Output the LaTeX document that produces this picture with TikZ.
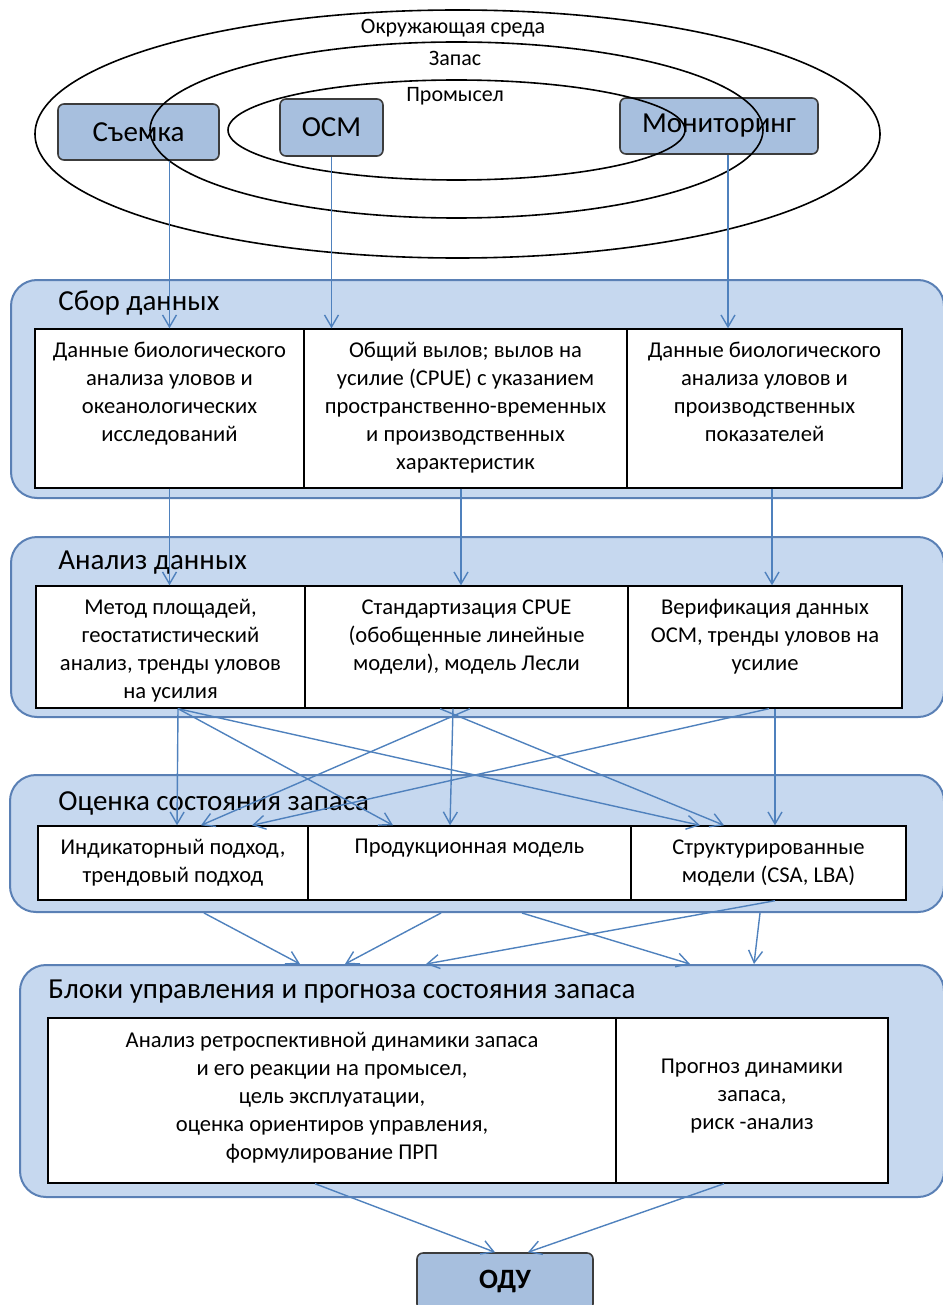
\documentclass[tikz,border=0pt]{standalone}
\usepackage{fontspec}
\setmainfont{Carlito}
\usetikzlibrary{arrows.meta, calc, positioning}

\definecolor{boxblue}{HTML}{A7BFDE}
\definecolor{boxedge}{HTML}{3C3C3C}
\definecolor{panelblue}{HTML}{C6D8EF}
\definecolor{paneledge}{HTML}{5A80B5}
\definecolor{arrowblue}{HTML}{4F81BD}

\tikzset{
  srcbox/.style={draw=boxedge, fill=boxblue, rounded corners=3pt, line width=0.8pt,
    inner sep=0pt, font=\fontsize{14.5}{16}\selectfont},
  panel/.style={draw=paneledge, fill=panelblue, rounded corners=13pt, line width=1pt, inner sep=0pt},
  cell/.style={draw=black, fill=white, line width=0.7pt, inner sep=0pt},
  celltext/.style={anchor=north, align=center, inner sep=0pt, font=\fontsize{11.3}{14}\selectfont},
  paneltitle/.style={anchor=west, inner sep=0pt, font=\fontsize{14.5}{16}\selectfont},
  envlabel/.style={inner sep=0pt, font=\fontsize{11}{13}\selectfont},
  arr/.style={draw=arrowblue, line width=0.7pt, -{Straight Barb[length=6pt,width=7pt]}},
}

\begin{document}
\begin{tikzpicture}[x=0.5pt, y=-0.5pt]
    \useasboundingbox (0,0) rectangle (942,1305);

    % источники данных
    \node[srcbox, minimum width=80.5pt, minimum height=28pt] (syomka) at (138.5,132) {\raisebox{-1.5pt}{Съемка}};
    \node[srcbox, minimum width=51.5pt, minimum height=28.5pt] (osm) at (331.5,127.5) {ОСМ};
    \node[srcbox, minimum width=99pt, minimum height=28pt] (monitor) at (719,126) {Мониторинг};

    % окружающая среда, запас, промысел
    \draw[line width=0.8pt] (457.5,134) ellipse [x radius=422.5, y radius=124];
    \draw[line width=0.8pt] (456.5,130) ellipse [x radius=306.5, y radius=88];
    \draw[line width=0.8pt] (456.5,130) ellipse [x radius=228.5, y radius=50];
    \node[envlabel] (envlbl) at (453,28) {Окружающая среда};
    \node[envlabel] (stocklbl) at (455,58) {Запас};
    \node[envlabel] (fishlbl) at (455,96) {Промысел};

    % сбор данных
    \node[panel, minimum width=466.5pt, minimum height=109pt] (sborpanel) at (477.5,389) {};
    \node[paneltitle] (sbortitle) at (58,303) {Сбор данных};
    \node[cell, minimum width=134.5pt, minimum height=79.5pt] (sbor1) at (169.5,408.5) {};
    \node[cell, minimum width=161.5pt, minimum height=79.5pt] (sbor2) at (465.5,408.5) {};
    \node[cell, minimum width=137.5pt, minimum height=79.5pt] (sbor3) at (764.5,408.5) {};
    \node[celltext] (sbor1t) at (169.5,342) {Данные биологического\\анализа уловов и\\океанологических\\исследований};
    \node[celltext] (sbor2t) at (465.5,342) {Общий вылов; вылов на\\усилие (CPUE) с указанием\\пространственно-временных\\и производственных\\характеристик};
    \node[celltext] (sbor3t) at (764.5,342) {Данные биологического\\анализа уловов и\\производственных\\показателей};

    % анализ данных
    \node[panel, minimum width=466.5pt, minimum height=90pt] (anpanel) at (477.5,627) {};
    \node[paneltitle] (antitle) at (58,563) {Анализ данных};
    \node[cell, minimum width=134.5pt, minimum height=61pt] (analiz1) at (170.5,647) {};
    \node[cell, minimum width=161.5pt, minimum height=61pt] (analiz2) at (466.5,647) {};
    \node[cell, minimum width=137pt, minimum height=61pt] (analiz3) at (765,647) {};
    \node[celltext] (analiz1t) at (170.5,599) {Метод площадей,\\геостатистический\\анализ, тренды уловов\\на усилия};
    \node[celltext] (analiz2t) at (466.5,599) {Стандартизация CPUE\\(обобщенные линейные\\модели), модель Лесли};
    \node[celltext] (analiz3t) at (765,599) {Верификация данных\\ОСМ, тренды уловов на\\усилие};

    % оценка состояния запаса
    \node[panel, minimum width=467pt, minimum height=68.5pt] (ocpanel) at (477,843.5) {};
    \node[paneltitle] (octitle) at (58,803) {Оценка состояния запаса};
    \node[cell, minimum width=135pt, minimum height=37pt] (ocen1) at (173,863) {};
    \node[cell, minimum width=161.5pt, minimum height=37pt] (ocen2) at (469.5,863) {};
    \node[cell, minimum width=137.5pt, minimum height=37pt] (ocen3) at (768.5,863) {};
    \node[celltext] (ocen1t) at (173,839) {Индикаторный подход,\\трендовый подход};
    \node[celltext] (ocen2t) at (469.5,839) {Продукционная модель};
    \node[celltext] (ocen3t) at (768.5,839) {Структурированные\\модели (CSA, LBA)};

    % блоки управления и прогноза
    \node[panel, minimum width=462pt, minimum height=116pt] (blpanel) at (482,1081) {};
    \node[paneltitle] (bltitle) at (48,992) {Блоки управления и прогноза состояния запаса};
    \node[cell, minimum width=284pt, minimum height=82.5pt] (blok1) at (332,1100.5) {};
    \node[cell, minimum width=136pt, minimum height=82.5pt] (blok2) at (752,1100.5) {};
    \node[celltext] (blok1t) at (332,1032) {Анализ ретроспективной динамики запаса\\и его реакции на промысел,\\цель эксплуатации,\\оценка ориентиров управления,\\формулирование ПРП};
    \node[celltext] (blok2t) at (752,1059) {Прогноз динамики\\запаса,\\риск -анализ};

    % ОДУ
    \node[srcbox, minimum width=88pt, minimum height=28.5pt, font=\bfseries\fontsize{14}{16}\selectfont] (odu) at (505,1281.5) {ОДУ};

    % стрелки: источники -> сбор данных
    \draw[arr] (sbor1.north |- syomka.south) -- (sbor1.north);
    \draw[arr] (osm.south) -- (osm.south |- sbor2.north);
    \draw[arr] ($(monitor.south)+(9,0)$) -- ($(monitor.south |- sbor3.north)+(9,0)$);

    % сбор -> анализ
    \draw[arr] (sbor1.south) -- (sbor1.south |- analiz1.north);
    \draw[arr] ($(sbor2.south)+(-4.5,0)$) -- ($(sbor2.south |- analiz2.north)+(-4.5,0)$);
    \draw[arr] ($(sbor3.south)+(7.5,0)$) -- ($(sbor3.south |- analiz3.north)+(7.5,0)$);

    % анализ -> оценка
    \draw[arr] ($(analiz1.south)+(7.5,0)$) -- ($(ocen1.north)+(4,0)$);
    \draw[arr] ($(analiz1.south)+(7.5,0)$) -- ($(ocen2.north)+(-76.5,0)$);
    \draw[arr] ($(analiz1.south)+(7.5,0)$) -- ($(ocen3.north)+(-68.5,0)$);
    \draw[arr] ($(analiz2.south)+(3.5,0)$) -- ($(ocen1.north)+(28,0)$);
    \draw[arr] ($(analiz2.south)+(-13.5,0)$) -- ($(ocen2.north)+(-19.5,0)$);
    \draw[arr] ($(analiz2.south)+(-26.5,0)$) -- ($(ocen3.north)+(-44.5,0)$);
    \draw[arr] ($(analiz3.south)+(4,0)$) -- ($(ocen1.north)+(79,0)$);
    \draw[arr] ($(analiz3.south)+(10,0)$) -- ($(ocen3.north)+(6.5,0)$);

    % оценка -> блоки управления
    \draw[arr] ($(ocen1.south |- ocpanel.south)+(31,0)$) -- ($(blok1.north |- blpanel.north)+(-32,0)$);
    \draw[arr] ($(ocen2.south |- ocpanel.south)+(-28.5,0)$) -- ($(blok1.north |- blpanel.north)+(13,0)$);
    \draw[arr] ($(ocen2.south |- ocpanel.south)+(52.5,0)$) -- ($(blok2.north |- blpanel.north)+(-62,0)$);
    \draw[arr] ($(ocen3.south)+(6.5,0)$) -- ($(blok1.north |- blpanel.north)+(94,0)$);
    \draw[arr] ($(ocen3.south |- ocpanel.south)+(-8.5,0)$) -- ($(blok2.north |- blpanel.north)+(2,0)$);

    % блоки -> ОДУ
    \draw[arr] ($(blok1.south)+(-17,0)$) -- ($(odu.north)+(-10,0)$);
    \draw[arr] ($(blok2.south)+(-28,0)$) -- ($(odu.north)+(23,0)$);
\end{tikzpicture}
\end{document}
